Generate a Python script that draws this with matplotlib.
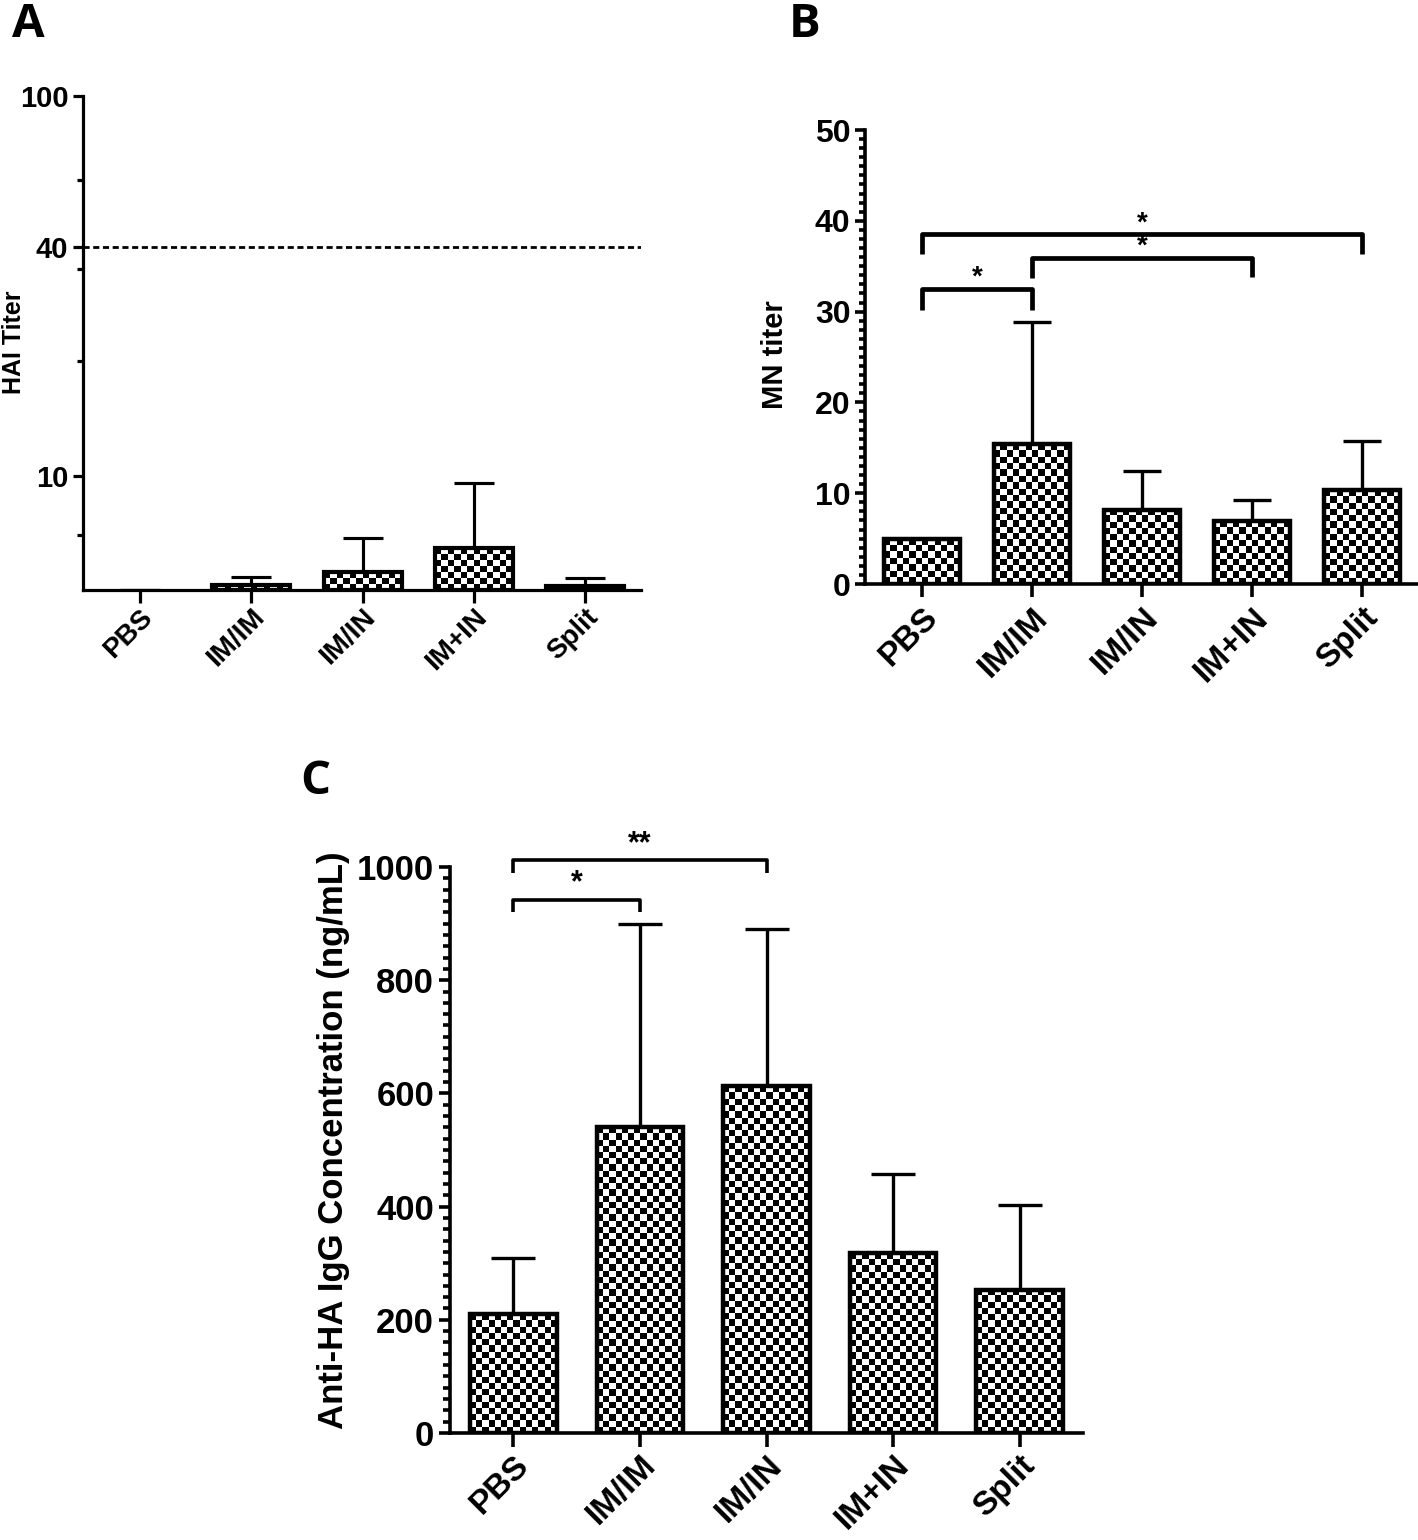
import numpy as np
import matplotlib
matplotlib.use('Agg')
import matplotlib.pyplot as plt
from matplotlib.image import BboxImage
from matplotlib.transforms import Bbox, TransformedBbox
from matplotlib.colors import Normalize
from matplotlib.ticker import FixedLocator, NullFormatter

plt.rcParams['font.family'] = ['Liberation Sans', 'DejaVu Sans']
plt.rcParams['font.weight'] = 'bold'

groups = ['PBS', 'IM/IM', 'IM/IN', 'IM+IN', 'Split']

# A - HAI titer (log scale, floor 5)
hai_mean = [5.0, 5.15, 5.57, 6.45, 5.12]
hai_top = [5.0, 5.41, 6.85, 9.55, 5.37]
hai_floor = 5

# B - MN titer
mn_mean = [5.0, 15.4, 8.2, 6.9, 10.3]
mn_top = [5.0, 28.9, 12.4, 9.2, 15.8]

# C - anti-HA IgG (ng/mL)
igg_mean = [210, 540, 613, 318, 253]
igg_top = [310, 900, 891, 458, 402]

# significance brackets: (i, j, bar y, left leg, right leg, label)
sig_b = [(0, 1, 32.5, 30.2, 30.2, '*'),
         (1, 3, 35.9, 33.7, 33.8, '*'),
         (0, 4, 38.5, 36.3, 36.3, '*')]
sig_c = [(0, 1, 942, 921, 921, '*'),
         (0, 2, 1012, 989, 989, '**')]

W, H = 1418, 1540
fig = plt.figure(figsize=(W / 100, H / 100), dpi=100)


def ax_px(l, t, r, b):
    return fig.add_axes([l / W, 1 - b / H, (r - l) / W, (b - t) / H])


def checker(ax, bars, cell=6.3):
    for b in bars:
        bb = TransformedBbox(Bbox.from_bounds(b.get_x(), b.get_y(), b.get_width(), b.get_height()), ax.transData)
        ext = bb.frozen()
        if ext.height < 2:
            continue
        nx = max(1, int(round(ext.width / cell)))
        ny = max(1, int(round(ext.height / cell)))
        arr = np.indices((ny, nx)).sum(axis=0) % 2
        im = BboxImage(bb, cmap='gray', norm=Normalize(0, 1), interpolation='nearest', origin='lower', zorder=2)
        im.set_data(arr)
        ax.add_artist(im)


def style(ax, lw, fs, xfs, ticklen=9, xpad=4):
    for s in ['top', 'right']:
        ax.spines[s].set_visible(False)
    for s in ['left', 'bottom']:
        ax.spines[s].set_linewidth(lw)
    ax.tick_params(axis='both', which='major', width=lw, length=ticklen, labelsize=fs)
    ax.tick_params(axis='y', which='minor', width=lw, length=ticklen * 0.6)
    ax.tick_params(axis='x', length=ticklen + 2, pad=xpad, labelsize=xfs)
    for t in ax.get_yticklabels() + ax.get_xticklabels():
        t.set_fontweight('bold')


def draw_bars(ax, mean, top, width, lw, cap, base=0):
    x = np.arange(len(groups))
    mean = np.array(mean, float)
    top = np.array(top, float)
    ax.errorbar(x, mean, yerr=[np.zeros_like(mean), top - mean], fmt='none', ecolor='k',
                elinewidth=lw * 0.75, capsize=cap, capthick=lw * 0.75, zorder=1)
    face = ax.bar(x, mean - base, width, bottom=base, color='white', edgecolor='none', zorder=1.5)
    edges = ['k' if m > base else 'none' for m in mean]
    ax.bar(x, mean - base, width, bottom=base, facecolor='none', edgecolor=edges, linewidth=lw, zorder=3)
    return face


def brackets(ax, sigs, lw, fs, dy):
    for i, j, y, l1, l2, lab in sigs:
        ax.plot([i, i, j, j], [l1, y, y, l2], color='k', lw=lw, clip_on=False, zorder=4,
                solid_capstyle='butt')
        ax.text((i + j) / 2, y + dy, lab, ha='center', va='bottom', fontsize=fs, fontweight='bold')


# ---------------- A ----------------
axA = ax_px(83, 96, 641, 590)
axA.set_yscale('log')
axA.set_ylim(hai_floor, 100)
axA.set_xlim(-0.51, 4.5)
fA = draw_bars(axA, hai_mean, hai_top, 0.70, 3.0, 14.5, base=hai_floor)
axA.yaxis.set_major_locator(FixedLocator([10, 40, 100]))
axA.yaxis.set_minor_locator(FixedLocator([7, 20, 35, 60]))
axA.yaxis.set_minor_formatter(NullFormatter())
axA.set_yticklabels(['10', '40', '100'])
axA.set_xticks(range(5))
axA.set_xticklabels(groups, rotation=45, ha='right', rotation_mode='anchor')
axA.axhline(40, color='k', lw=2, dashes=(2.2, 1.3), zorder=1)
style(axA, 2.3, 21, 20, ticklen=7, xpad=1)
checker(axA, fA)
fig.text(14 / W, 1 - 342 / H, 'HAI Titer', rotation=90, ha='center', va='center', fontsize=18, fontweight='bold')

# ---------------- B ----------------
axB = ax_px(865, 130, 1418, 584)
axB.set_ylim(0, 50)
axB.set_xlim(-0.52, 4.51)
fB = draw_bars(axB, mn_mean, mn_top, 0.69, 3.2, 13.5)
axB.set_yticks(range(0, 51, 10))
axB.yaxis.set_minor_locator(FixedLocator(range(0, 51)))
axB.set_xticks(range(5))
axB.set_xticklabels(groups, rotation=45, ha='right', rotation_mode='anchor')
style(axB, 2.6, 23, 24, ticklen=7)
checker(axB, fB)
brackets(axB, sig_b, 3.4, 20, -0.2)
fig.text(775 / W, 1 - 355 / H, 'MN titer', rotation=90, ha='center', va='center', fontsize=21, fontweight='bold')

# ---------------- C ----------------
axC = ax_px(450, 867, 1083, 1433)
axC.set_ylim(0, 1000)
axC.set_xlim(-0.5, 4.5)
fC = draw_bars(axC, igg_mean, igg_top, 0.685, 3.2, 15.5)
axC.set_yticks(range(0, 1001, 200))
axC.yaxis.set_minor_locator(FixedLocator(range(0, 1001, 20)))
axC.set_xticks(range(5))
axC.set_xticklabels(groups, rotation=45, ha='right', rotation_mode='anchor')
style(axC, 2.6, 25, 24, ticklen=8, xpad=2)
checker(axC, fC)
brackets(axC, sig_c, 2.6, 22, 2)
fig.text(333 / W, 1 - 1140 / H, 'Anti-HA IgG Concentration (ng/mL)', rotation=90, ha='center', va='center',
         fontsize=25, fontweight='bold')

# panel letters
for lab, x, y in [('A', 28, 37), ('B', 805, 37), ('C', 315, 794)]:
    fig.text(x / W, 1 - y / H, lab, ha='center', va='baseline', fontsize=34, fontweight='bold',
             family=['Open Sans', 'DejaVu Sans'])

fig.savefig('out.png', dpi=100)
